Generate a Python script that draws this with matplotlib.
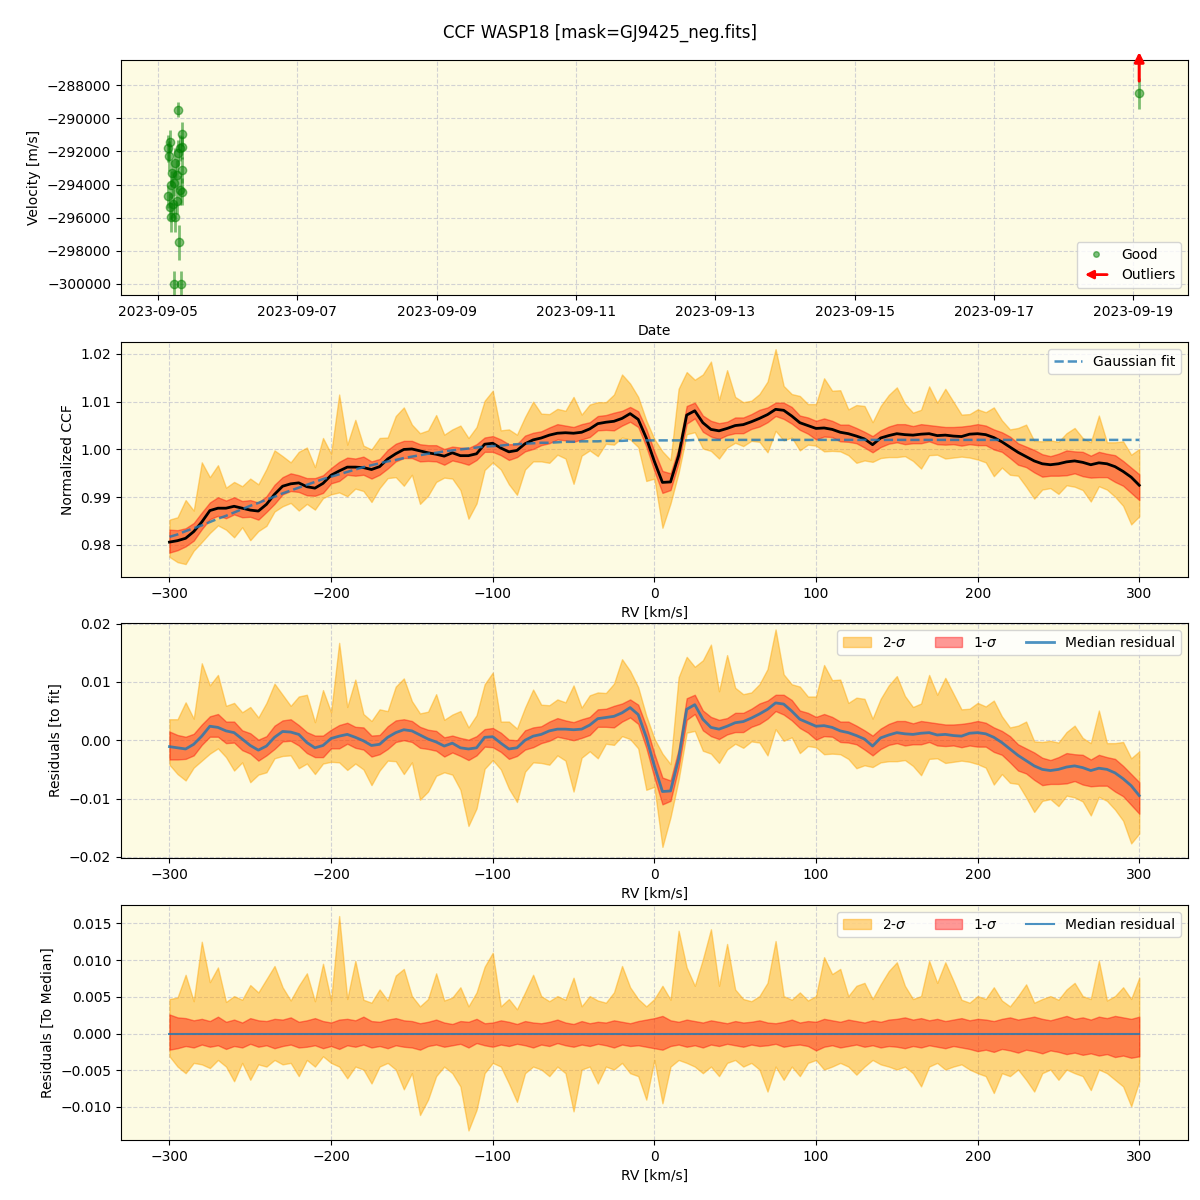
import numpy as np
import pandas as pd
import matplotlib
matplotlib.use("Agg")
import matplotlib.pyplot as plt
import matplotlib.dates as mdates
import matplotlib.patches as mpatches
from matplotlib.lines import Line2D
from matplotlib.legend_handler import HandlerPatch

# ---- velocity time series (top panel) ----
good_time = ["2023-09-05 07:00", "2023-09-05 08:30", "2023-09-05 04:10", "2023-09-05 03:40",
             "2023-09-05 08:20", "2023-09-05 07:40", "2023-09-05 04:00", "2023-09-05 06:50",
             "2023-09-05 06:00", "2023-09-05 04:50", "2023-09-05 08:20", "2023-09-05 06:30",
             "2023-09-05 04:35", "2023-09-05 05:35", "2023-09-05 07:40", "2023-09-05 08:20",
             "2023-09-05 03:40", "2023-09-05 04:10", "2023-09-05 05:20", "2023-09-05 06:30",
             "2023-09-05 04:25", "2023-09-05 06:00", "2023-09-05 07:20", "2023-09-05 05:35",
             "2023-09-05 08:00", "2023-09-19 02:00"]
good_vel = [-289470, -290950, -291420, -291820, -291760, -291800, -292300, -292100,
            -292700, -293300, -293110, -293400, -294000, -293900, -294330, -294430,
            -294700, -295330, -295150, -295000, -295940, -295940, -297500, -300000,
            -300000, -288500]
good_err = [470, 700, 700, 800, 700, 800, 900, 800,
            900, 800, 800, 900, 800, 800, 900, 800,
            700, 800, 900, 800, 900, 900, 1050, 800,
            800, 950]
outlier_time = ["2023-09-19 02:00"]
outlier_arrow_from = -287750
outlier_arrow_to = -286000

# ---- CCF (RV grid in km/s) ----
rv = np.arange(-300, 301, 5)

gauss_fit = [0.9817, 0.9822, 0.9829, 0.9835, 0.9841, 0.9848, 0.9855, 0.9861, 0.9868, 0.9875,
             0.9882, 0.9888, 0.9895, 0.9901, 0.9908, 0.9914, 0.9920, 0.9926, 0.9932, 0.9938,
             0.9943, 0.9948, 0.9953, 0.9958, 0.9963, 0.9967, 0.9971, 0.9975, 0.9978, 0.9982,
             0.9985, 0.9988, 0.9991, 0.9993, 0.9996, 0.9998, 1.0000, 1.0002, 1.0004, 1.0006,
             1.0007, 1.0008, 1.0010, 1.0011, 1.0012, 1.0013, 1.0014, 1.0014, 1.0015, 1.0016,
             1.0016, 1.0017, 1.0017, 1.0017, 1.0018, 1.0018, 1.0018, 1.0019, 1.0019, 1.0019,
             1.0019, 1.0019, 1.0019, 1.0019, 1.0019] + [1.0020] * 56

# median residual w.r.t. the Gaussian fit
med_resid = [-0.0011, -0.0013, -0.0015, -0.0007, 0.0007, 0.0024, 0.0022, 0.0016, 0.0013, 0.0002,
             -0.0009, -0.0017, -0.0010, 0.0005, 0.0015, 0.0014, 0.0010, -0.0004, -0.0013, -0.0009,
             0.0003, 0.0007, 0.0010, 0.0005, -0.0001, -0.0009, -0.0007, 0.0005, 0.0013, 0.0018,
             0.0016, 0.0009, 0.0002, -0.0003, -0.0010, -0.0005, -0.0013, -0.0015, -0.0013, 0.0005,
             0.0006, -0.0005, -0.0015, -0.0013, 0.0000, 0.0007, 0.0010, 0.0016, 0.0019, 0.0019,
             0.0018, 0.0019, 0.0026, 0.0037, 0.0039, 0.0041, 0.0047, 0.0056, 0.0044, 0.0005,
             -0.0044, -0.0088, -0.0087, -0.0032, 0.0053, 0.0061, 0.0036, 0.0022, 0.0019, 0.0024,
             0.0030, 0.0032, 0.0038, 0.0045, 0.0053, 0.0064, 0.0062, 0.0050, 0.0036, 0.0030,
             0.0024, 0.0025, 0.0022, 0.0016, 0.0013, 0.0008, 0.0002, -0.0010, 0.0004, 0.0009,
             0.0013, 0.0011, 0.0010, 0.0012, 0.0013, 0.0009, 0.0010, 0.0008, 0.0007, 0.0012,
             0.0013, 0.0011, 0.0005, -0.0004, -0.0015, -0.0026, -0.0035, -0.0044, -0.0050, -0.0052,
             -0.0050, -0.0046, -0.0044, -0.0047, -0.0052, -0.0048, -0.0050, -0.0056, -0.0066, -0.0078,
             -0.0095]

# band edges relative to the median (2-sigma and 1-sigma)
up2 = [0.0047, 0.0049, 0.0080, 0.0044, 0.0125, 0.0070, 0.0090, 0.0043, 0.0051, 0.0046,
       0.0066, 0.0056, 0.0074, 0.0092, 0.0063, 0.0045, 0.0065, 0.0082, 0.0044, 0.0095,
       0.0045, 0.0160, 0.0047, 0.0099, 0.0046, 0.0042, 0.0060, 0.0045, 0.0079, 0.0088,
       0.0051, 0.0037, 0.0047, 0.0082, 0.0045, 0.0049, 0.0063, 0.0037, 0.0056, 0.0091,
       0.0110, 0.0037, 0.0047, 0.0033, 0.0056, 0.0080, 0.0051, 0.0044, 0.0051, 0.0046,
       0.0076, 0.0037, 0.0051, 0.0045, 0.0042, 0.0056, 0.0092, 0.0063, 0.0047, 0.0037,
       0.0047, 0.0065, 0.0046, 0.0140, 0.0090, 0.0065, 0.0101, 0.0142, 0.0065, 0.0122,
       0.0060, 0.0047, 0.0044, 0.0051, 0.0069, 0.0126, 0.0051, 0.0046, 0.0056, 0.0045,
       0.0051, 0.0104, 0.0081, 0.0088, 0.0051, 0.0065, 0.0069, 0.0047, 0.0067, 0.0085,
       0.0097, 0.0065, 0.0047, 0.0051, 0.0099, 0.0069, 0.0097, 0.0072, 0.0046, 0.0042,
       0.0051, 0.0047, 0.0063, 0.0045, 0.0037, 0.0051, 0.0067, 0.0042, 0.0047, 0.0051,
       0.0046, 0.0060, 0.0069, 0.0051, 0.0047, 0.0099, 0.0045, 0.0051, 0.0063, 0.0047,
       0.0076]
lo2 = [-0.0031, -0.0045, -0.0054, -0.0040, -0.0042, -0.0047, -0.0036, -0.0045, -0.0065, -0.0040,
       -0.0063, -0.0042, -0.0045, -0.0036, -0.0042, -0.0040, -0.0058, -0.0036, -0.0045, -0.0031,
       -0.0040, -0.0045, -0.0061, -0.0045, -0.0049, -0.0068, -0.0045, -0.0040, -0.0049, -0.0076,
       -0.0054, -0.0111, -0.0090, -0.0058, -0.0045, -0.0054, -0.0072, -0.0132, -0.0104, -0.0054,
       -0.0040, -0.0045, -0.0068, -0.0093, -0.0054, -0.0045, -0.0049, -0.0058, -0.0045, -0.0054,
       -0.0106, -0.0049, -0.0045, -0.0068, -0.0045, -0.0049, -0.0040, -0.0054, -0.0058, -0.0090,
       -0.0036, -0.0095, -0.0045, -0.0036, -0.0040, -0.0045, -0.0054, -0.0045, -0.0058, -0.0040,
       -0.0036, -0.0045, -0.0040, -0.0049, -0.0079, -0.0045, -0.0063, -0.0045, -0.0058, -0.0040,
       -0.0036, -0.0049, -0.0045, -0.0040, -0.0045, -0.0056, -0.0045, -0.0036, -0.0042, -0.0045,
       -0.0049, -0.0045, -0.0054, -0.0072, -0.0045, -0.0040, -0.0049, -0.0045, -0.0042, -0.0049,
       -0.0054, -0.0058, -0.0081, -0.0054, -0.0058, -0.0049, -0.0063, -0.0079, -0.0054, -0.0049,
       -0.0063, -0.0049, -0.0054, -0.0058, -0.0077, -0.0049, -0.0054, -0.0063, -0.0072, -0.0099,
       -0.0065]
up1 = [0.0026, 0.0022, 0.0021, 0.0018, 0.0020, 0.0017, 0.0023, 0.0016, 0.0019, 0.0015,
       0.0021, 0.0018, 0.0017, 0.0020, 0.0019, 0.0022, 0.0016, 0.0018, 0.0021, 0.0017,
       0.0015, 0.0019, 0.0020, 0.0018, 0.0023, 0.0017, 0.0016, 0.0019, 0.0021, 0.0018,
       0.0017, 0.0014, 0.0016, 0.0019, 0.0015, 0.0013, 0.0017, 0.0016, 0.0020, 0.0014,
       0.0015, 0.0018, 0.0016, 0.0013, 0.0017, 0.0015, 0.0014, 0.0016, 0.0019, 0.0015,
       0.0013, 0.0017, 0.0014, 0.0016, 0.0015, 0.0018, 0.0016, 0.0014, 0.0017, 0.0019,
       0.0021, 0.0024, 0.0018, 0.0016, 0.0019, 0.0017, 0.0015, 0.0018, 0.0016, 0.0014,
       0.0017, 0.0015, 0.0016, 0.0018, 0.0015, 0.0014, 0.0016, 0.0019, 0.0015, 0.0017,
       0.0016, 0.0020, 0.0018, 0.0016, 0.0019, 0.0017, 0.0015, 0.0018, 0.0016, 0.0019,
       0.0020, 0.0022, 0.0019, 0.0021, 0.0018, 0.0020, 0.0017, 0.0019, 0.0021, 0.0018,
       0.0020, 0.0019, 0.0017, 0.0020, 0.0022, 0.0019, 0.0021, 0.0023, 0.0020, 0.0018,
       0.0021, 0.0024, 0.0020, 0.0022, 0.0019, 0.0023, 0.0021, 0.0024, 0.0022, 0.0020,
       0.0023]
lo1 = [-0.0022, -0.0020, -0.0017, -0.0019, -0.0015, -0.0018, -0.0016, -0.0021, -0.0017, -0.0019,
       -0.0014, -0.0018, -0.0016, -0.0020, -0.0017, -0.0015, -0.0019, -0.0018, -0.0016, -0.0020,
       -0.0017, -0.0021, -0.0016, -0.0018, -0.0015, -0.0019, -0.0017, -0.0020, -0.0016, -0.0018,
       -0.0019, -0.0022, -0.0017, -0.0015, -0.0018, -0.0016, -0.0014, -0.0019, -0.0013, -0.0016,
       -0.0018, -0.0015, -0.0017, -0.0014, -0.0016, -0.0019, -0.0015, -0.0017, -0.0013, -0.0016,
       -0.0018, -0.0015, -0.0017, -0.0014, -0.0016, -0.0019, -0.0015, -0.0017, -0.0016, -0.0018,
       -0.0020, -0.0022, -0.0017, -0.0015, -0.0018, -0.0016, -0.0019, -0.0015, -0.0017, -0.0014,
       -0.0016, -0.0018, -0.0015, -0.0017, -0.0016, -0.0014, -0.0018, -0.0016, -0.0015, -0.0017,
       -0.0023, -0.0018, -0.0016, -0.0019, -0.0017, -0.0015, -0.0018, -0.0016, -0.0019, -0.0017,
       -0.0018, -0.0020, -0.0017, -0.0019, -0.0016, -0.0018, -0.0020, -0.0017, -0.0019, -0.0021,
       -0.0024, -0.0022, -0.0025, -0.0021, -0.0023, -0.0026, -0.0022, -0.0024, -0.0027, -0.0023,
       -0.0025, -0.0028, -0.0026, -0.0029, -0.0027, -0.0030, -0.0028, -0.0032, -0.0030, -0.0033,
       -0.0031]

for name, arr in [("fit", gauss_fit), ("med", med_resid), ("up2", up2), ("lo2", lo2), ("up1", up1), ("lo1", lo1)]:
    assert len(arr) == len(rv), (name, len(arr))

fit = np.array(gauss_fit)
med = np.array(med_resid)
up2 = np.array(up2); lo2 = np.array(lo2)
up1 = np.array(up1); lo1 = np.array(lo1)

bg = "#fdfbe3"
c2 = "orange"
c1 = "red"
a2 = 0.45
a1 = 0.4

fig = plt.figure(figsize=(12, 12), dpi=100)
fig.suptitle("CCF WASP18 [mask=GJ9425_neg.fits]", fontsize=12, y=0.980)
lefts, width = 0.1008, 0.889
bottoms = [0.7542, 0.5192, 0.285, 0.05]
height = 0.1958
axes = [fig.add_axes([lefts, b, width, height]) for b in bottoms]
for ax in axes:
    ax.set_facecolor(bg)
    ax.grid(True, linestyle="--", color="#c8c8d0", alpha=0.8)
    ax.set_axisbelow(True)

# --- panel 1: velocities ---
ax = axes[0]
tg = pd.to_datetime(good_time)
ax.errorbar(tg, good_vel, yerr=good_err, fmt="o", color="green", alpha=0.5,
            ms=6, elinewidth=2)
to = pd.to_datetime(outlier_time)[0]
ax.annotate("", xy=(to, outlier_arrow_to), xytext=(to, outlier_arrow_from),
            arrowprops=dict(arrowstyle="-|>", color="red", lw=2.2, mutation_scale=14,
                            shrinkA=0, shrinkB=0),
            annotation_clip=False)
ax.set_xlim(pd.Timestamp("2023-09-04 11:20"), pd.Timestamp("2023-09-19 18:43"))
ax.set_ylim(-300670, -286480)
ax.xaxis.set_major_locator(mdates.DayLocator(interval=2))
ax.xaxis.set_major_formatter(mdates.DateFormatter("%Y-%m-%d"))
ax.ticklabel_format(axis="y", style="plain", useOffset=False)
ax.set_xlabel("Date")
ax.set_ylabel("Velocity [m/s]")


def make_arrow(legend, orig_handle, xdescent, ydescent, width, height, fontsize):
    return mpatches.FancyArrowPatch((width - xdescent, 0.5 * height - ydescent),
                                    (-xdescent, 0.5 * height - ydescent),
                                    arrowstyle="-|>", mutation_scale=12)


good_h = Line2D([], [], marker="o", ls="", color="green", alpha=0.5, ms=4)
out_h = mpatches.FancyArrowPatch((0, 0), (1, 0), color="red", lw=2)
ax.legend([good_h, out_h], ["Good", "Outliers"], loc="lower right",
          handler_map={mpatches.FancyArrowPatch: HandlerPatch(patch_func=make_arrow)})

# --- panel 2: normalized CCF ---
ax = axes[1]
ccf = fit + med
ax.fill_between(rv, ccf + lo2, ccf + up2, color=c2, alpha=a2)
ax.fill_between(rv, ccf + lo1, ccf + up1, color=c1, alpha=a1)
ax.plot(rv, ccf, color="black", lw=2)
ax.plot(rv, fit, "--", color="tab:blue", alpha=0.8, lw=1.8, label="Gaussian fit")
ax.set_xlim(-330, 330)
ax.set_ylim(0.9733, 1.0225)
ax.set_xlabel("RV [km/s]")
ax.set_ylabel("Normalized CCF")
ax.legend(loc="upper right")

# --- panel 3: residuals to fit ---
ax = axes[2]
ax.fill_between(rv, med + lo2, med + up2, color=c2, alpha=a2, label=r"2-$\sigma$")
ax.fill_between(rv, med + lo1, med + up1, color=c1, alpha=a1, label=r"1-$\sigma$")
ax.plot(rv, med, color="tab:blue", alpha=0.8, lw=2, label="Median residual")
ax.set_xlim(-330, 330)
ax.set_ylim(-0.0202, 0.0201)
ax.set_xlabel("RV [km/s]")
ax.set_ylabel("Residuals [to fit]")
ax.legend(loc="upper right", ncol=3)

# --- panel 4: residuals to median ---
ax = axes[3]
ax.fill_between(rv, lo2, up2, color=c2, alpha=a2, label=r"2-$\sigma$")
ax.fill_between(rv, lo1, up1, color=c1, alpha=a1, label=r"1-$\sigma$")
ax.plot(rv, med - med, color="tab:blue", alpha=0.8, lw=1.5, label="Median residual")
ax.set_xlim(-330, 330)
ax.set_ylim(-0.0145, 0.0175)
ax.set_xlabel("RV [km/s]")
ax.set_ylabel("Residuals [To Median]")
ax.legend(loc="upper right", ncol=3)

fig.savefig("out.png", dpi=100)
